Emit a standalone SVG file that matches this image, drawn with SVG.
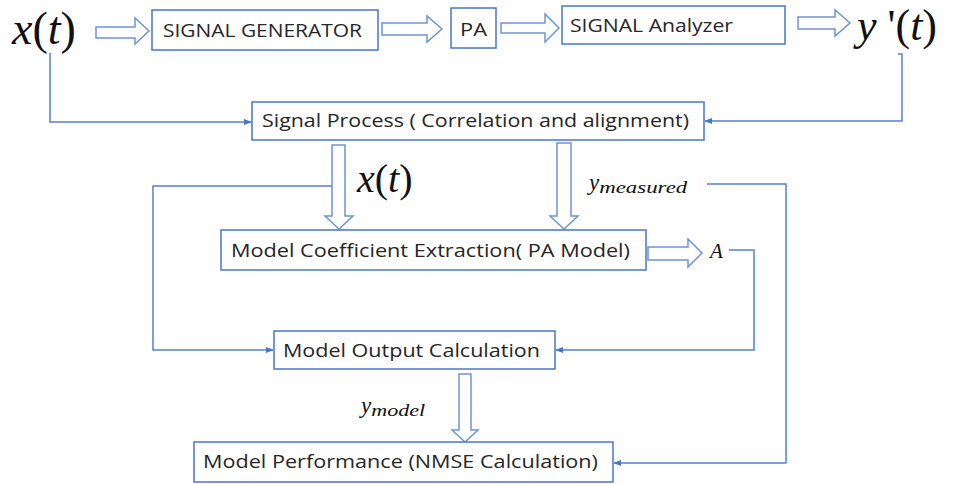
<svg xmlns="http://www.w3.org/2000/svg" width="953" height="484" viewBox="0 0 953 484">
<style>
.box{fill:#fff;stroke:#4a76c8;stroke-width:1.5}
.lbl{font-family:"Open Sans","Noto Sans",sans-serif;font-size:19px;fill:#262626}
.blk{fill:#fff;stroke:#6f94d6;stroke-width:1.5}
.ln{fill:none;stroke:#5580cc;stroke-width:1.5}
.math{font-family:'Liberation Serif','DejaVu Serif',serif;fill:#111}
.it{font-style:italic}
</style>
<defs>
<marker id="ah" viewBox="0 0 10 10" refX="9" refY="5" markerWidth="8" markerHeight="8" markerUnits="userSpaceOnUse" orient="auto">
<path d="M0,1 L10,5 L0,9 Z" fill="#4a76c8"/>
</marker>
</defs>
<rect width="953" height="484" fill="#fff"/>

<g id="connectors">
<path class="blk" d="M96,27 H135 V18 L149,31 L135,44 V38 H96 Z"/>
<path class="blk" d="M382,23 H427 V16 L442,29 L427,42 V35 H382 Z"/>
<path class="blk" d="M501,23 H545 V14 L559,28 L545,42 V33 H501 Z"/>
<path class="blk" d="M798,17 H835 V10 L850,23 L835,36 V29 H798 Z"/>
<path class="blk" d="M332,145 V216 H325 L339,229 L353,216 H345 V145 Z"/>
<path class="blk" d="M557,143 V216 H550 L564,229 L578,216 H571 V143 Z"/>
<path class="blk" d="M648,247 H688 V239 L702,253 L688,267 V260 H648 Z"/>
<path class="blk" d="M459,374 V430 H452 L465,442 L478,430 H471 V374 Z"/>
<path class="ln" d="M50,53 V122 H251" marker-end="url(#ah)"/>
<path class="ln" d="M898,54 H902 V121 H705" marker-end="url(#ah)"/>
<path class="ln" d="M332,186 H153 V350 H273" marker-end="url(#ah)"/>
<path class="ln" d="M707,184 H786 V463 H614" marker-end="url(#ah)"/>
<path class="ln" d="M729,250 H754 V350 H556" marker-end="url(#ah)"/>
</g>

<g id="x_t_top"><text class="math" x="12" y="44" font-size="46"><tspan class="it">x</tspan>(<tspan class="it">t</tspan>)</text></g>
<g id="y_t_top"><text class="math" x="857" y="40" font-size="44"><tspan class="it">y</tspan> '(<tspan class="it">t</tspan>)</text></g>

<g id="sig_gen"><rect class="box" x="152" y="10" width="226" height="40"/><text class="lbl" x="163" y="37" textLength="199" lengthAdjust="spacingAndGlyphs">SIGNAL GENERATOR</text></g>
<g id="pa"><rect class="box" x="451" y="8" width="45" height="40"/><text class="lbl" x="460" y="36" textLength="27" lengthAdjust="spacingAndGlyphs">PA</text></g>
<g id="sig_an"><rect class="box" x="562" y="6" width="223" height="38"/><text class="lbl" x="570" y="32" textLength="163" lengthAdjust="spacingAndGlyphs">SIGNAL Analyzer</text></g>
<g id="sig_proc"><rect class="box" x="252" y="102" width="452" height="38"/><text class="lbl" x="262" y="127" textLength="427" lengthAdjust="spacingAndGlyphs">Signal Process ( Correlation and alignment)</text></g>
<g id="x_t_mid"><text class="math" x="357" y="192" font-size="40"><tspan class="it">x</tspan>(<tspan class="it">t</tspan>)</text></g>
<g id="y_meas"><text class="math it" x="589" y="190" font-size="23">y<tspan font-size="17" dy="3" textLength="88" lengthAdjust="spacingAndGlyphs">measured</tspan></text></g>
<g id="mce"><rect class="box" x="221" y="230" width="425" height="40"/><text class="lbl" x="231" y="257" textLength="399" lengthAdjust="spacingAndGlyphs">Model Coefficient Extraction( PA Model)</text></g>
<g id="a_lbl"><text class="math it" x="710" y="258" font-size="21">A</text></g>
<g id="moc"><rect class="box" x="274" y="331" width="281" height="38"/><text class="lbl" x="283" y="357" textLength="257" lengthAdjust="spacingAndGlyphs">Model Output Calculation</text></g>
<g id="y_model"><text class="math it" x="361" y="413" font-size="23">y<tspan font-size="17" dy="3" textLength="54" lengthAdjust="spacingAndGlyphs">model</tspan></text></g>
<g id="mp"><rect class="box" x="194" y="442" width="419" height="40"/><text class="lbl" x="203" y="468" textLength="395" lengthAdjust="spacingAndGlyphs">Model Performance (NMSE Calculation)</text></g>
</svg>
